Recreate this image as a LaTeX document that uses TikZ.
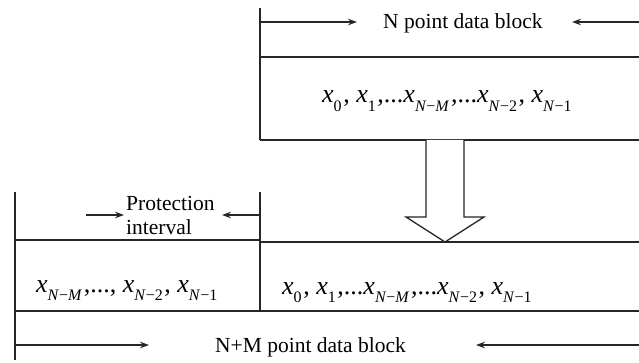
\documentclass[tikz,border=0pt]{standalone}
\usepackage{fontspec}
\setmainfont{Liberation Serif}
\usetikzlibrary{arrows.meta}
\newcommand\xsub[1]{\textit{x}\raisebox{-0.34em}{\fontsize{16}{16}\selectfont #1}\kern1.6pt}
\begin{document}
\begin{tikzpicture}[x=1pt,y=-1pt,
  every node/.style={inner sep=0pt},
  rule/.style={draw=black!85, line width=1.3pt},
  dimarrow/.style={rule, -{Stealth[length=9pt,width=6.5pt]}},
  lbl/.style={font=\fontsize{21.5}{24}\selectfont},
  formula/.style={font=\fontsize{26}{28}\selectfont}]
\useasboundingbox (0,0) rectangle (639,363);

% ---------- top block ----------
\coordinate (tTL) at (260,8);
\coordinate (tML) at (260,57);
\coordinate (tMR) at (639,57);
\coordinate (tBL) at (260,140);
\coordinate (tBR) at (639,140);
\draw[rule] (tTL) -- (tBL);
\draw[rule] (tML) -- (tMR);
\draw[rule] (tBL) -- (tBR);

\node[lbl, anchor=base west] (ntitle) at (383,29) {N point data block};
\coordinate (ntL) at (260,22);
\coordinate (ntLe) at (357,22);
\coordinate (ntR) at (639,22);
\coordinate (ntRe) at (572,22);
\draw[dimarrow] (ntL) -- (ntLe);
\draw[dimarrow] (ntR) -- (ntRe);

\node[formula, anchor=base west] (ftop) at (322,103)
  {\xsub{0}, \xsub{1},...\xsub{\textit{N}−\textit{M}},...\xsub{\textit{N}−2}, \xsub{\textit{N}−1}};

% ---------- big down arrow ----------
\draw[rule, fill=white, line join=miter]
  (426,140) -- (426,217) -- (406,217) -- (445,242) -- (484,217) -- (464,217) -- (464,140);

% ---------- bottom block ----------
\coordinate (bLT) at (15,192);
\coordinate (bLB) at (15,360);
\coordinate (bMT) at (260,192);
\coordinate (bMB) at (260,311);
\coordinate (bL1) at (15,240);
\coordinate (bM1) at (260,240);
\coordinate (bM2) at (260,242);
\coordinate (bR2) at (639,242);
\coordinate (bL3) at (15,311);
\coordinate (bR3) at (639,311);
\draw[rule] (bLT) -- (bLB);
\draw[rule] (bMT) -- (bMB);
\draw[rule] (bL1) -- (bM1);
\draw[rule] (bM2) -- (bR2);
\draw[rule] (bL3) -- (bR3);

\node[lbl, anchor=base west] (prot1) at (126,211) {Protection};
\node[lbl, anchor=base west] (prot2) at (126,235) {interval};
\coordinate (pa1) at (86,215);
\coordinate (pa1e) at (124,215);
\coordinate (pa2) at (260,215);
\coordinate (pa2e) at (222,215);
\draw[dimarrow] (pa1) -- (pa1e);
\draw[dimarrow] (pa2) -- (pa2e);

\node[formula, anchor=base west] (fleft) at (36,292)
  {\xsub{\textit{N}−\textit{M}},..., \xsub{\textit{N}−2}, \xsub{\textit{N}−1}};
\node[formula, anchor=base west] (fright) at (282,294)
  {\xsub{0}, \xsub{1},...\xsub{\textit{N}−\textit{M}},...\xsub{\textit{N}−2}, \xsub{\textit{N}−1}};

\node[lbl, anchor=base west] (nm) at (215,352) {N+M point data block};
\coordinate (nmL) at (15,345);
\coordinate (nmLe) at (149,345);
\coordinate (nmR) at (639,345);
\coordinate (nmRe) at (476,345);
\draw[dimarrow] (nmL) -- (nmLe);
\draw[dimarrow] (nmR) -- (nmRe);
\end{tikzpicture}
\end{document}
